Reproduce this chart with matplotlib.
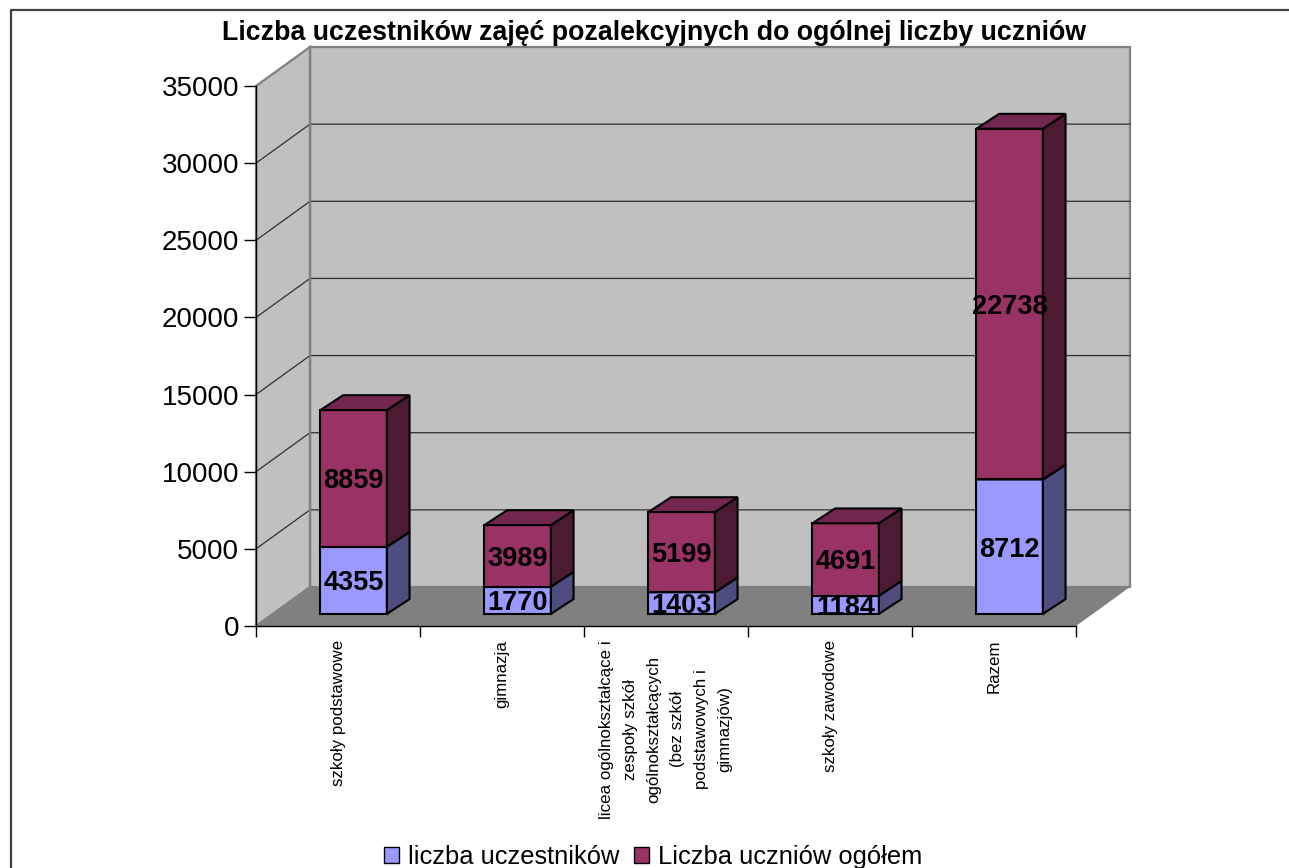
#!/usr/bin/env python3
"""Stacked pseudo-3D bars: uczestnicy zajec pozalekcyjnych vs liczba uczniow."""
import matplotlib
matplotlib.use('Agg')
import matplotlib.pyplot as plt
from matplotlib.lines import Line2D
from matplotlib.patches import Patch, Polygon

plt.rcParams['font.family'] = ['Liberation Sans', 'DejaVu Sans']

TITLE = 'Liczba uczestników zajęć pozalekcyjnych do ogólnej liczby uczniów'
categories = [
    'szkoły podstawowe',
    'gimnazja',
    'licea ogólnokształcące i\nzespoły szkół\nogólnokształcących\n(bez szkół\npodstawowych i\ngimnazjów)',
    'szkoły zawodowe',
    'Razem',
]
participants = [4355, 1770, 1403, 1184, 8712]
students = [8859, 3989, 5199, 4691, 22738]
y_ticks = [0, 5000, 10000, 15000, 20000, 25000, 30000, 35000]
series_names = ['liczba uczestników', 'Liczba uczniów ogółem']

W, H = 1289, 868
# depth of the fake 3d box, in data units
DX = 54 / 164
DY = 39 / (540 / 35000)
BAR_W = 0.405
# where the bar sits inside the depth, x and y fractions differ a bit
BAR_X0, BAR_X1 = 0.29, 0.71
BAR_Y0, BAR_Y1 = 0.31, 0.69

BLUE = ('#9999FF', '#4D4D80', '#737399')
MAROON = ('#993366', '#4D1A33', '#732650')


def poly(ax, pts, fc, ec='none', lw=0.0, z=1):
    ax.add_patch(Polygon(pts, closed=True, fc=fc, ec=ec, lw=lw, zorder=z,
                         clip_on=False, joinstyle='miter'))


def draw_box(ax, x0, x1, y0, y1, colors, z):
    d0x, d0y = BAR_X0 * DX, BAR_Y0 * DY
    d1x, d1y = BAR_X1 * DX, BAR_Y1 * DY
    xa, xb = x0 + d0x, x1 + d0x
    ya, yb = y0 + d0y, y1 + d0y
    xc, yc = x1 + d1x, y1 + d1y
    front, side, top = colors
    poly(ax, [(xa, ya), (xb, ya), (xb, yb), (xa, yb)], front, 'black', 1.5, z)
    poly(ax, [(xb, ya), (xc, y0 + d1y), (xc, yc), (xb, yb)], side, 'black', 1.5, z)
    poly(ax, [(xa, yb), (xb, yb), (xc, yc), (x0 + d1x, yc)], top, 'black', 1.5, z)


def main():
    fig = plt.figure(figsize=(W / 100, H / 100), dpi=100, facecolor='white')
    ax = fig.add_axes([256 / W, 1 - 626 / H, 820 / W, 540 / H])
    ax.set_xlim(0, len(categories))
    ax.set_ylim(0, y_ticks[-1])
    ax.patch.set_visible(False)
    for s in ('top', 'right'):
        ax.spines[s].set_visible(False)
    ax.spines['left'].set_linewidth(1.0)
    ax.spines['bottom'].set_linewidth(1.0)
    ax.spines['left'].set_zorder(6)
    ax.spines['bottom'].set_zorder(6)

    n = len(categories)
    top = y_ticks[-1]
    # walls and floor
    poly(ax, [(DX, DY), (n + DX, DY), (n + DX, top + DY), (DX, top + DY)],
         '#C0C0C0', '#808080', 1.6, 1)
    poly(ax, [(0, 0), (DX, DY), (DX, top + DY), (0, top)],
         '#C0C0C0', '#808080', 1.6, 1)
    poly(ax, [(0, 0), (n, 0), (n + DX, DY), (DX, DY)], '#808080', z=2)
    for t in y_ticks[1:-1]:
        ax.plot([0, DX, n + DX], [t, t + DY, t + DY], color='#303030', lw=0.9,
                zorder=2, clip_on=False)
    ax.plot([0, DX], [0, DY], color='#808080', lw=1.0, zorder=3, clip_on=False)
    ax.plot([DX, DX], [DY, top + DY], color='#808080', lw=1.6, zorder=3, clip_on=False)

    # stacked bars
    for i, (a, b) in enumerate(zip(participants, students)):
        x0 = i + 0.5 - BAR_W / 2
        x1 = i + 0.5 + BAR_W / 2
        draw_box(ax, x0, x1, 0, a, BLUE, 4)
        draw_box(ax, x0, x1, a, a + b, MAROON, 4)
        cx = i + 0.5 + BAR_X0 * DX
        off = BAR_Y0 * DY
        ax.text(cx, a / 2 + off, str(a), ha='center', va='center_baseline',
                fontsize=19.5, fontweight='bold', zorder=7)
        ax.text(cx, a + b / 2 + off, str(b), ha='center', va='center_baseline',
                fontsize=19.5, fontweight='bold', zorder=7)

    ax.set_yticks(y_ticks)
    ax.tick_params(axis='y', length=8.6, width=1.0, pad=3.6, labelsize=20)
    ax.set_xticks(range(n + 1))
    ax.set_xticklabels([])
    ax.tick_params(axis='x', length=8, width=1.0)
    for i, lab in enumerate(categories):
        ax.annotate(lab, (i + 0.5, 0), xytext=(0, -10), textcoords='offset points',
                    xycoords=('data', 'data'), rotation=90, ha='center', va='top',
                    multialignment='center', fontsize=12.2, linespacing=1.72)

    fig.text(654 / W, 1 - 33.5 / H, TITLE, ha='center', va='center',
             fontsize=19.3, fontweight='bold')

    handles = [Patch(fc=BLUE[0], ec='black', lw=1.0),
               Patch(fc=MAROON[0], ec='black', lw=1.0)]
    fig.legend(handles, series_names, loc='center', bbox_to_anchor=(653 / W, 1 - 857 / H),
               ncol=2, frameon=False, fontsize=18.4, handlelength=0.6, handleheight=0.6,
               handletextpad=0.35, columnspacing=0.55, borderpad=0, borderaxespad=0)

    # outer chart frame, runs off the right and bottom of the image
    fig.add_artist(Line2D([10.5 / W, 10.5 / W, 1], [0, 1 - 10 / H, 1 - 10 / H],
                          color='#404040', lw=1.6))

    fig.savefig('out.png', dpi=100)
    plt.close(fig)


if __name__ == '__main__':
    raise SystemExit(main())
